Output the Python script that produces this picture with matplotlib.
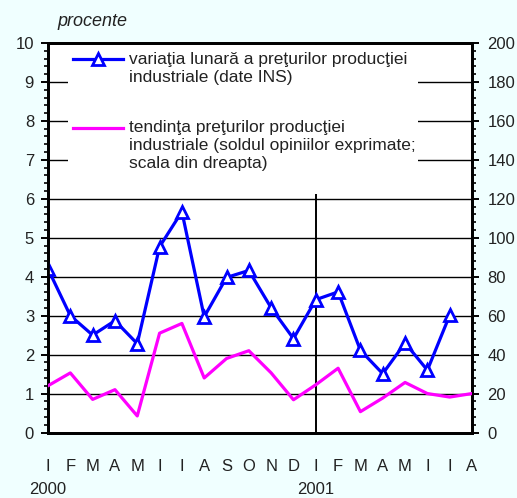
import matplotlib
matplotlib.use("Agg")
import matplotlib.pyplot as plt
from matplotlib.patches import Rectangle
from matplotlib.lines import Line2D
from matplotlib.ticker import MultipleLocator
import numpy as np

plt.rcParams['font.family'] = ['Liberation Sans', 'DejaVu Sans']

months = ['I', 'F', 'M', 'A', 'M', 'I', 'I', 'A', 'S', 'O', 'N', 'D',
          'I', 'F', 'M', 'A', 'M', 'I', 'I', 'A']
years = ['2000', '2001']
year_pos = [0, 12]

# monthly change of industrial producer prices (%, left scale)
variatia = [4.2, 3.0, 2.5, 2.87, 2.28, 4.77, 5.67, 2.97, 3.98, 4.16, 3.2, 2.41,
            3.41, 3.61, 2.11, 1.51, 2.3, 1.6, 3.01]
# trend of industrial producer prices (balance of opinions, right scale)
tendinta = [24, 30.6, 17, 22, 8.5, 51, 56, 28, 38, 42, 30.6, 16.8,
            24.5, 33, 10.7, 17.7, 25.7, 20, 18.2, 20]

label_var = "variaţia lunară a preţurilor producţiei\nindustriale (date INS)"
label_ten = ("tendinţa preţurilor producţiei\nindustriale (soldul opiniilor exprimate;\n"
             "scala din dreapta)")

BG = '#F0FFFF'
W, H = 517, 498
fig = plt.figure(figsize=(W / 100, H / 100), dpi=100, facecolor=BG)

x0, x1 = 48, 472
y0, y1 = 432.5, 43
ax = fig.add_axes([x0 / W, 1 - y0 / H, (x1 - x0) / W, (y0 - y1) / H])
ax.set_facecolor('white')
ax2 = ax.twinx()

xs_var = np.arange(len(variatia))
xs_ten = np.arange(len(tendinta))

# grid
for v in range(1, 10):
    ax.axhline(v, color='black', lw=1.0, zorder=1)
ax.axvline(12, color='black', lw=1.4, zorder=1)

ax.plot(xs_var, variatia, color='#0000FF', lw=2.3, marker='^', markersize=9,
        markerfacecolor='white', markeredgecolor='#0000FF', markeredgewidth=2.0,
        zorder=3)
ax2.plot(xs_ten, tendinta, color='#FF00FF', lw=2.3, zorder=3)

ax.set_xlim(0, len(months) - 1)
ax.set_ylim(0, 10)
ax2.set_ylim(0, 200)

ax.yaxis.set_major_locator(MultipleLocator(1))
ax.yaxis.set_minor_locator(MultipleLocator(0.2))
ax2.yaxis.set_major_locator(MultipleLocator(20))
ax2.yaxis.set_minor_locator(MultipleLocator(4))

ax.set_xticks(xs_ten)
ax.set_xticklabels(months)
ax.tick_params(axis='x', length=0, pad=19, labelsize=12, colors='#222222')
ax.tick_params(axis='y', which='major', direction='out', length=5, width=1.4,
               pad=5, labelsize=12, labelcolor='#222222')
ax.tick_params(axis='y', which='minor', direction='out', length=3.2, width=1.2)
ax2.tick_params(axis='y', which='major', direction='out', length=5, width=1.4,
                pad=6, labelsize=12, labelcolor='#222222')
ax2.tick_params(axis='y', which='minor', direction='out', length=3.2, width=1.2)

for a in (ax, ax2):
    for s in a.spines.values():
        s.set_linewidth(2.0)
        s.set_color('black')

for yl, xp in zip(years, year_pos):
    ax.annotate(yl, xy=(xp, 0), xycoords=('data', 'axes fraction'),
                xytext=(0, -57), textcoords='offset pixels',
                ha='center', va='center', fontsize=12, color='#222222',
                annotation_clip=False)

# legend box (manual, to align handles with first text line)
def ax_x(px):
    return (px - x0) / (x1 - x0)

def ax_y(py):
    return (y0 - py) / (y0 - y1)

ax2.add_patch(Rectangle((ax_x(68), ax_y(194)), ax_x(418) - ax_x(68),
                        ax_y(45) - ax_y(194), transform=ax2.transAxes,
                        facecolor='white', edgecolor='none', zorder=5))
ax2.add_line(Line2D([ax_x(73), ax_x(123)], [ax_y(59), ax_y(59)],
                    transform=ax2.transAxes, color='#0000FF', lw=2.3, zorder=6))
ax2.add_line(Line2D([ax_x(98)], [ax_y(59)], transform=ax2.transAxes,
                    marker='^', markersize=9, markerfacecolor='white',
                    markeredgecolor='#0000FF', markeredgewidth=2.0, zorder=7))
ax2.add_line(Line2D([ax_x(73), ax_x(123)], [ax_y(128), ax_y(128)],
                    transform=ax2.transAxes, color='#FF00FF', lw=2.3, zorder=6))
ax2.text(ax_x(129), ax_y(52), label_var, transform=ax2.transAxes,
         ha='left', va='top', fontsize=12.5, color='#222222',
         linespacing=1.25, zorder=7)
ax2.text(ax_x(129), ax_y(120), label_ten, transform=ax2.transAxes,
         ha='left', va='top', fontsize=12.5, color='#222222',
         linespacing=1.25, zorder=7)

fig.text(57 / W, 1 - 22 / H, 'procente', style='italic', fontsize=13,
         color='#222222', ha='left', va='center')

fig.savefig('out.png', dpi=100, facecolor=BG)
